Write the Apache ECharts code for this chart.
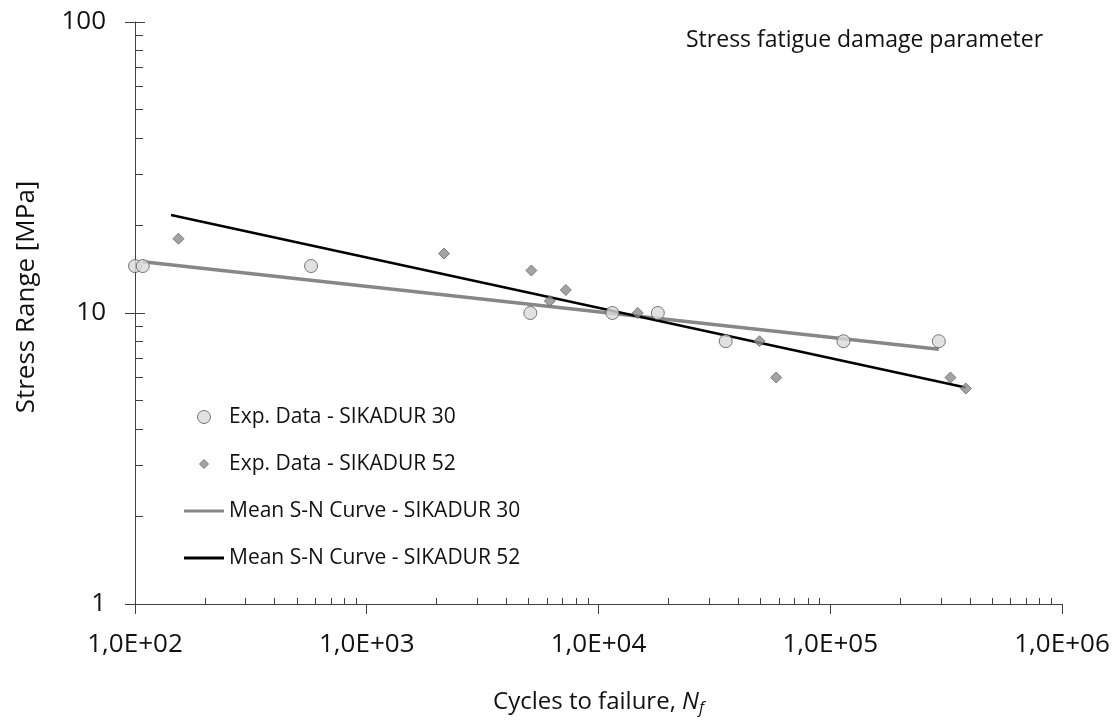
<!DOCTYPE html>
<html>
<head>
<meta charset="utf-8">
<script src="https://cdn.jsdelivr.net/npm/echarts@6/dist/echarts.min.js"></script>
<style>
  html, body { margin: 0; padding: 0; background: #fff; }
  #chart { width: 1119px; height: 722px; }
</style>
</head>
<body>
<div id="chart"></div>
<script>
// Experimental fatigue results (cycles to failure vs stress range)
const sika30Cycles = [100, 108, 575, 5080, 11480, 18030, 35400, 114000, 294000];
const sika30Stress = [14.5, 14.5, 14.5, 10, 10, 10, 8, 8, 8];
const sika52Cycles = [154, 2156, 5133, 6165, 7225, 14770, 49500, 58430, 330000, 384600];
const sika52Stress = [18, 16, 14, 11, 12, 10, 8, 6, 6, 5.5];

// Mean S-N curves (power law -> straight in log-log), end points
const curve30Cycles = [108, 294000];
const curve30Stress = [15.0, 7.5];
const curve52Cycles = [143, 384000];
const curve52Stress = [21.7, 5.55];

const seriesNames = [
  'Exp. Data - SIKADUR 30',
  'Exp. Data - SIKADUR 52',
  'Mean S-N Curve - SIKADUR 30',
  'Mean S-N Curve - SIKADUR 52'
];

const FONT = 'Open Sans';
const AXIS_COLOR = '#404040';
const TEXT_COLOR = '#111111';

const COLORS = {
  circleFill: '#d9d9d9', circleBorder: '#595959',
  diamondFill: '#8c8c8c', diamondBorder: '#666666',
  line30: '#878787', line52: '#000000'
};

function pairs(xs, ys) { return xs.map((x, i) => [x, ys[i]]); }

// log-style minor tick positions (2..9 per decade), in exponent space
function minorExponents(fromExp, toExp) {
  const out = [];
  for (let e = fromExp; e < toExp; e++) {
    for (let k = 2; k <= 9; k++) out.push(e + Math.log10(k));
  }
  return out;
}
function majorExponents(fromExp, toExp) {
  const out = [];
  for (let e = fromExp; e <= toExp; e++) out.push(e);
  return out;
}

const chart = echarts.init(document.getElementById('chart'), null, { renderer: 'canvas' });

const hiddenAxisBase = {
  axisLine: { show: false },
  axisLabel: { show: false },
  splitLine: { show: false },
  silent: true
};

const legendText = { fontFamily: FONT, fontSize: 21, color: TEXT_COLOR, lineHeight: 24 };

const option = {
  backgroundColor: '#ffffff',
  animation: false,
  textStyle: { fontFamily: FONT },
  title: {
    text: 'Stress fatigue damage parameter',
    left: 686,
    top: 29,
    padding: 0,
    textStyle: { fontFamily: FONT, fontSize: 23, fontWeight: 'normal', color: TEXT_COLOR }
  },
  grid: {
    left: 135, top: 22, width: 927, height: 582,
    containLabel: false,
    outerBoundsMode: 'none'
  },
  legend: [
    {
      data: [{
        name: seriesNames[0], icon: 'circle',
        itemStyle: { color: COLORS.circleFill, borderColor: COLORS.circleBorder, borderWidth: 1 }
      }],
      left: 197, top: 405, padding: 0,
      itemWidth: 40, itemHeight: 13,
      textStyle: legendText
    },
    {
      data: [{
        name: seriesNames[1], icon: 'path://M5,0L10,5L5,10L0,5Z',
        itemStyle: { color: COLORS.diamondFill, borderColor: COLORS.diamondBorder, borderWidth: 1 }
      }],
      left: 199, top: 452, padding: 0,
      itemWidth: 40, itemHeight: 9,
      textStyle: legendText
    },
    {
      data: [
        { name: seriesNames[2], icon: 'rect', itemStyle: { color: COLORS.line30, borderWidth: 0 } },
        { name: seriesNames[3], icon: 'rect', itemStyle: { color: COLORS.line52, borderWidth: 0 } }
      ],
      orient: 'vertical',
      left: 184, top: 499, padding: 0,
      itemWidth: 40, itemHeight: 3, itemGap: 23,
      textStyle: legendText
    }
  ],
  xAxis: [
    {
      type: 'log', logBase: 10, min: 100, max: 1000000, splitNumber: 4,
      position: 'bottom',
      name: 'Cycles to failure, {i|N}{s|f}',
      nameLocation: 'middle', nameGap: 84,
      nameTextStyle: {
        fontFamily: FONT, fontSize: 24, color: TEXT_COLOR,
        rich: {
          i: { fontFamily: FONT, fontSize: 24, fontStyle: 'italic', color: TEXT_COLOR },
          s: { fontFamily: FONT, fontSize: 16, fontStyle: 'italic', color: TEXT_COLOR, padding: [12, 0, 0, 0] }
        }
      },
      axisLine: { show: true, lineStyle: { color: AXIS_COLOR, width: 1 } },
      axisTick: { show: true, inside: false, length: 10, lineStyle: { color: AXIS_COLOR } },
      axisLabel: {
        margin: 28, fontFamily: FONT, fontSize: 26, color: TEXT_COLOR,
        formatter: v => '1,0E+' + String(Math.round(Math.log10(v))).padStart(2, '0')
      },
      splitLine: { show: false },
      minorTick: { show: false }
    },
    Object.assign({}, hiddenAxisBase, {
      type: 'value', min: 2, max: 6, position: 'bottom',
      axisTick: {
        show: true, inside: true, length: 6,
        customValues: minorExponents(2, 6),
        lineStyle: { color: AXIS_COLOR }
      }
    })
  ],
  yAxis: [
    {
      type: 'log', logBase: 10, min: 1, max: 100, splitNumber: 2,
      position: 'left',
      name: 'Stress Range [MPa]',
      nameLocation: 'middle', nameGap: 95, nameRotate: 90,
      nameTextStyle: { fontFamily: FONT, fontSize: 26, color: TEXT_COLOR, padding: [0, 0, 0, 32] },
      axisLine: { show: true, lineStyle: { color: AXIS_COLOR, width: 1 } },
      axisTick: { show: true, inside: false, length: 10, lineStyle: { color: AXIS_COLOR } },
      axisLabel: { margin: 29, fontFamily: FONT, fontSize: 26, color: TEXT_COLOR },
      splitLine: { show: false },
      minorTick: { show: false }
    },
    Object.assign({}, hiddenAxisBase, {
      type: 'value', min: 0, max: 2, position: 'left',
      axisTick: {
        show: true, inside: true, length: 8,
        customValues: minorExponents(0, 2),
        lineStyle: { color: AXIS_COLOR }
      }
    }),
    Object.assign({}, hiddenAxisBase, {
      type: 'value', min: 0, max: 2, position: 'left',
      axisTick: {
        show: true, inside: true, length: 10,
        customValues: majorExponents(0, 2),
        lineStyle: { color: AXIS_COLOR }
      }
    })
  ],
  series: [
    {
      name: seriesNames[0],
      type: 'scatter',
      data: pairs(sika30Cycles, sika30Stress),
      symbol: 'circle', symbolSize: 13, z: 4,
      itemStyle: { color: COLORS.circleFill, borderColor: COLORS.circleBorder, borderWidth: 1 }
    },
    {
      name: seriesNames[1],
      type: 'scatter',
      data: pairs(sika52Cycles, sika52Stress),
      symbol: 'diamond', symbolSize: 11, z: 4,
      itemStyle: { color: COLORS.diamondFill, borderColor: COLORS.diamondBorder, borderWidth: 1 }
    },
    {
      name: seriesNames[2],
      type: 'line',
      data: pairs(curve30Cycles, curve30Stress),
      symbol: 'none', showSymbol: false, z: 2,
      itemStyle: { color: COLORS.line30 },
      lineStyle: { color: COLORS.line30, width: 3.5 }
    },
    {
      name: seriesNames[3],
      type: 'line',
      data: pairs(curve52Cycles, curve52Stress),
      symbol: 'none', showSymbol: false, z: 3,
      itemStyle: { color: COLORS.line52 },
      lineStyle: { color: COLORS.line52, width: 2.5 }
    }
  ]
};

chart.setOption(option);
</script>
</body>
</html>
